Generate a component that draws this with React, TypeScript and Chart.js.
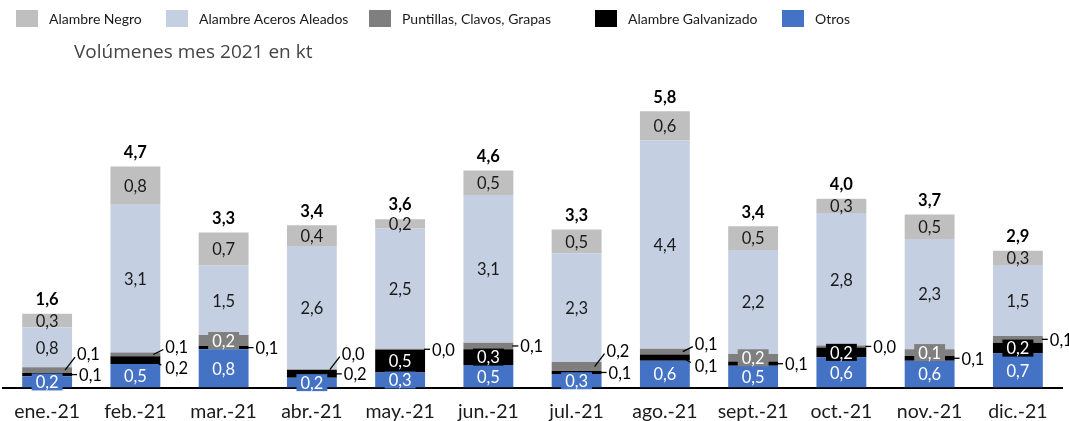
import React, { useEffect, useRef } from 'react';
import { Chart, registerables } from 'chart.js';

Chart.register(...registerables);

const FONT = 'Lato, "Open Sans", sans-serif';

const months = ['ene.-21', 'feb.-21', 'mar.-21', 'abr.-21', 'may.-21', 'jun.-21', 'jul.-21', 'ago.-21', 'sept.-21', 'oct.-21', 'nov.-21', 'dic.-21'];
const seriesNames = ['Otros', 'Alambre Galvanizado', 'Puntillas, Clavos, Grapas', 'Alambre Aceros Aleados', 'Alambre Negro'];

const otros = [0.24, 0.5, 0.81, 0.21, 0.32, 0.48, 0.29, 0.57, 0.46, 0.64, 0.57, 0.72];
const galvanizado = [0.07, 0.16, 0.07, 0.16, 0.48, 0.33, 0.06, 0.13, 0.09, 0.21, 0.1, 0.23];
const puntillas = [0.12, 0.08, 0.23, 0.02, 0.02, 0.14, 0.19, 0.12, 0.16, 0.04, 0.14, 0.14];
const acerosAleados = [0.84, 3.14, 1.47, 2.6, 2.54, 3.12, 2.3, 4.4, 2.2, 2.8, 2.33, 1.5];
const negro = [0.29, 0.79, 0.7, 0.44, 0.2, 0.52, 0.5, 0.62, 0.5, 0.3, 0.52, 0.3];

const subtitle = 'Volúmenes mes 2021 en kt';

const colors = ['#4472c4', '#000000', '#7f7f7f', '#c5cfe2', '#bfbfbf'];

// label placement for the thin segments
const galvPlacement = ['dash', 'down', 'dash', 'dash', 'in', 'in', 'dash', 'down', 'dash', 'in', 'dash', 'in'];
const puntPlacement = ['up', 'up', 'in', 'up', 'dash', 'dash', 'up', 'up', 'in', 'dash', 'in', 'dash'];

// legend item left edges (layout, top-of-stack first)
const legendX = [16, 166, 369, 595, 782];

const fmt = (v: number) => v.toFixed(1).replace('.', ',');

function boxed(ctx: CanvasRenderingContext2D, text: string, x: number, y: number, bg: string, fg: string) {
  const w = ctx.measureText(text).width;
  ctx.fillStyle = bg;
  ctx.fillRect(x - w / 2 - 4, y - 8.5, w + 8, 17);
  ctx.fillStyle = fg;
  ctx.textAlign = 'center';
  ctx.fillText(text, x, y + 1);
}

function plain(ctx: CanvasRenderingContext2D, text: string, x: number, y: number, color: string, align: CanvasTextAlign = 'center') {
  ctx.fillStyle = color;
  ctx.textAlign = align;
  ctx.fillText(text, x, y + 1);
}

function line(ctx: CanvasRenderingContext2D, x1: number, y1: number, x2: number, y2: number) {
  ctx.strokeStyle = '#000';
  ctx.lineWidth = 1.3;
  ctx.beginPath();
  ctx.moveTo(x1, y1);
  ctx.lineTo(x2, y2);
  ctx.stroke();
}

const labelsPlugin = {
  id: 'segLabels',
  afterDatasetsDraw(chart: any) {
    const ctx: CanvasRenderingContext2D = chart.ctx;
    const metas = chart.data.datasets.map((_: any, i: number) => chart.getDatasetMeta(i));
    const data = chart.data.datasets.map((d: any) => d.data as number[]);
    ctx.save();
    ctx.textBaseline = 'middle';
    months.forEach((_, i) => {
      const bars = metas.map((m: any) => m.data[i]);
      const x = bars[0].x;
      const right = x + bars[0].width / 2;
      const mid = (b: any) => (b.y + b.base) / 2;
      ctx.font = `16.5px ${FONT}`;
      // Otros
      boxed(ctx, fmt(data[0][i]), x, mid(bars[0]), colors[0], '#ffffff');
      // Galvanizado
      const gp = galvPlacement[i];
      const gy = mid(bars[1]);
      const gt = fmt(data[1][i]);
      if (gp === 'in') {
        boxed(ctx, gt, x, gy, '#000000', '#ffffff');
      } else if (gp === 'dash') {
        line(ctx, right - 1, gy, right + 5, gy);
        plain(ctx, gt, right + 7, gy, '#000', 'left');
      } else {
        line(ctx, right - 6, gy + 1, right + 1, gy + 5);
        plain(ctx, gt, right + 5, gy + 8, '#000', 'left');
      }
      // Puntillas
      const pp = puntPlacement[i];
      const py = mid(bars[2]);
      const pt = fmt(data[2][i]);
      if (pp === 'in') {
        boxed(ctx, pt, x, py, '#7f7f7f', '#ffffff');
      } else if (pp === 'dash') {
        line(ctx, right - 1, py, right + 5, py);
        plain(ctx, pt, right + 7, py, '#000', 'left');
      } else {
        const off = gp === 'down' ? -8 : -16;
        line(ctx, right - 7, py, right + 3, py + off + 3);
        plain(ctx, pt, right + 5, py + off, '#000', 'left');
      }
      // Aceros aleados & Negro
      plain(ctx, fmt(data[3][i]), x, mid(bars[3]), '#1a1a1a');
      plain(ctx, fmt(data[4][i]), x, mid(bars[4]), '#1a1a1a');
      // Total
      const total = data.reduce((s: number, d: number[]) => s + d[i], 0);
      ctx.font = `bold 16.5px ${FONT}`;
      plain(ctx, fmt(total), x, bars[4].y - 15, '#000');
    });
    ctx.restore();
  },
};

const legendPlugin = {
  id: 'customLegend',
  afterDraw(chart: any) {
    const ctx: CanvasRenderingContext2D = chart.ctx;
    ctx.save();
    ctx.font = `14px ${FONT}`;
    ctx.textBaseline = 'middle';
    ctx.textAlign = 'left';
    const ds = chart.data.datasets.slice().reverse();
    ds.forEach((d: any, k: number) => {
      const x = legendX[k];
      ctx.fillStyle = d.backgroundColor;
      ctx.fillRect(x, 10, 22, 17);
      ctx.fillStyle = '#1a1a1a';
      ctx.fillText(d.label, x + 33, 19);
    });
    ctx.font = `19px "Open Sans", sans-serif`;
    ctx.fillStyle = '#444444';
    ctx.fillText(subtitle, 74, 53);
    ctx.restore();
  },
};

export default function App() {
  const canvasRef = useRef<HTMLCanvasElement | null>(null);

  useEffect(() => {
    if (!canvasRef.current) return;
    const series = [otros, galvanizado, puntillas, acerosAleados, negro];
    const chart = new Chart(canvasRef.current, {
      type: 'bar',
      data: {
        labels: months,
        datasets: series.map((s, i) => ({
          label: seriesNames[i],
          data: s,
          backgroundColor: colors[i],
          borderWidth: 0,
          barPercentage: 0.565,
          categoryPercentage: 1,
        })),
      },
      options: {
        animation: false,
        responsive: true,
        maintainAspectRatio: false,
        layout: { padding: { top: 80, left: 3, right: 7, bottom: -14 } },
        plugins: {
          legend: { display: false },
          tooltip: { enabled: false },
          title: { display: false },
        },
        scales: {
          x: {
            stacked: true,
            grid: { display: false, drawTicks: false },
            border: { display: true, color: '#000', width: 2 },
            ticks: {
              font: { family: FONT, size: 19.5, lineHeight: 1.2 },
              color: '#1a1a1a',
              padding: 12,
              maxRotation: 0,
              autoSkip: false,
            },
          },
          y: { stacked: true, display: false, min: 0, max: 6.5 },
        },
      },
      plugins: [labelsPlugin, legendPlugin],
    });
    return () => chart.destroy();
  }, []);

  return (
    <div style={{ position: 'fixed', left: 0, top: 0, width: 1069, height: 421, background: '#fff' }}>
      <canvas ref={canvasRef} />
    </div>
  );
}
